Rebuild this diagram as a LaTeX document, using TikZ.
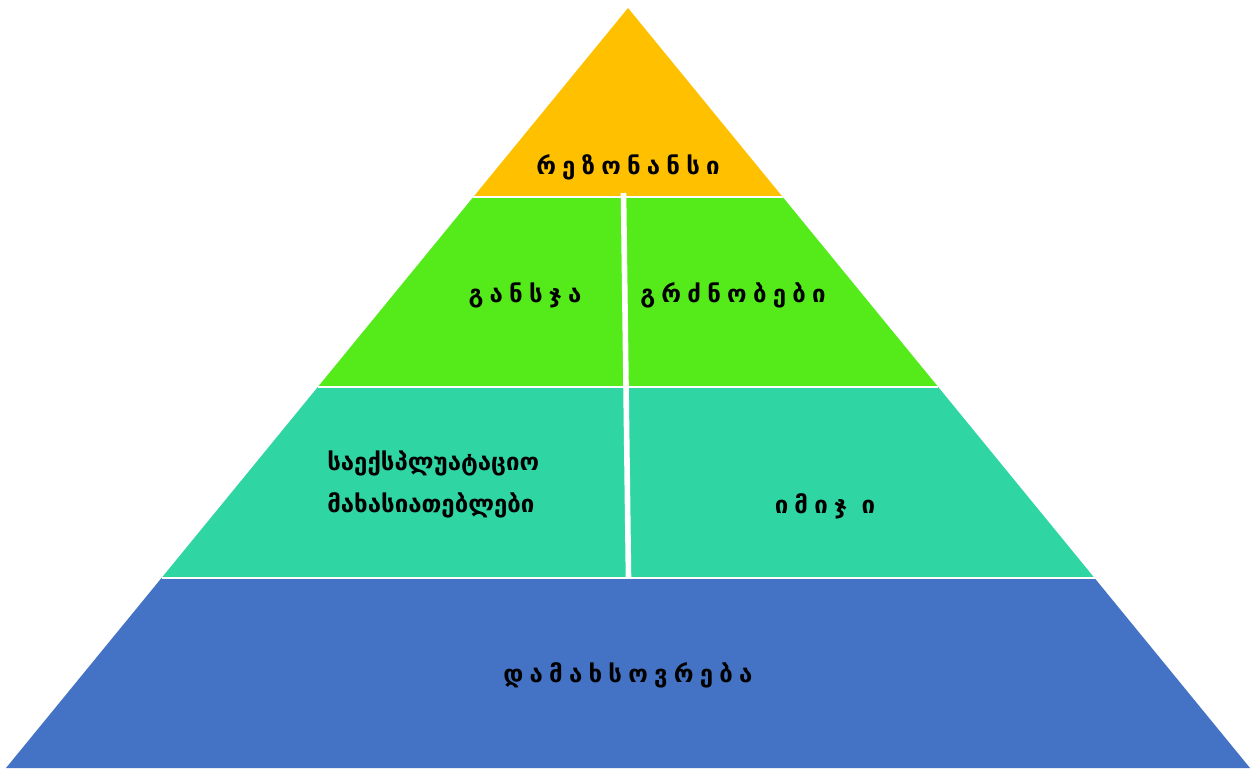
\documentclass[tikz,border=0pt]{standalone}
\usepackage{fontspec}
\setmainfont{DejaVu Sans}
\newfontfamily\geospaced[LetterSpace=26]{DejaVu Sans}
\usepackage{xcolor}
\definecolor{pyrgold}{HTML}{FFC000}
\definecolor{pyrgreen}{HTML}{55EA1A}
\definecolor{pyrteal}{HTML}{2FD6A3}
\definecolor{pyrblue}{HTML}{4472C4}
\usepackage{tikz}
\usetikzlibrary{positioning}

\begin{document}
\begin{tikzpicture}[x=0.75pt,y=-0.75pt]
\tikzset{
 band/.style={draw=none},
 gap/.style={draw=white,line width=1.6pt},
 divider/.style={draw=white,line width=4.2pt},
 lbl/.style={font=\geospaced\bfseries\fontsize{18}{22}\selectfont,text=black,inner sep=0pt},
 plain/.style={font=\bfseries\fontsize{18}{31.5}\selectfont,text=black,inner sep=0pt,align=left}
}
\useasboundingbox[fill=white] (0,0) rectangle (1251,768);
% corner points of the layers
\coordinate (apex) at (628,8);
\coordinate (l1) at (473.3,197); \coordinate (r1) at (782.7,197);
\coordinate (l2) at (317.8,387); \coordinate (r2) at (938.2,387);
\coordinate (l3) at (161.5,578); \coordinate (r3) at (1094.5,578);
\coordinate (l4) at (6,768);     \coordinate (r4) at (1250,768);
\fill[pyrgold] (apex) -- (r1) -- (l1) -- cycle;
\fill[pyrgreen] (l1) -- (r1) -- (r2) -- (l2) -- cycle;
\fill[pyrteal] (l2) -- (r2) -- (r3) -- (l3) -- cycle;
\fill[pyrblue] (l3) -- (r3) -- (r4) -- (l4) -- cycle;
\draw[gap] (l1) -- (r1);
\draw[gap] (l2) -- (r2);
\draw[gap] (l3) -- (r3);
\coordinate (dtop) at (623.5,193);
\coordinate (dbot) at (628.5,578);
\draw[divider] (dtop) -- (dbot);
% labels
\node[lbl] (top) at (628,167) {რეზონანსი};
\node[lbl] (judge) at (525,295) {განსჯა};
\node[lbl] (feel) at (733,295) {გრძნობები};
\node[plain,anchor=west] (usage) at (327,484) {საექსპლუატაციო\\მახასიათებლები};
\node[lbl] (image) at (825,506) {იმიჯ ი};
\node[lbl] (memo) at (628,675) {დამახსოვრება};
\end{tikzpicture}
\end{document}
